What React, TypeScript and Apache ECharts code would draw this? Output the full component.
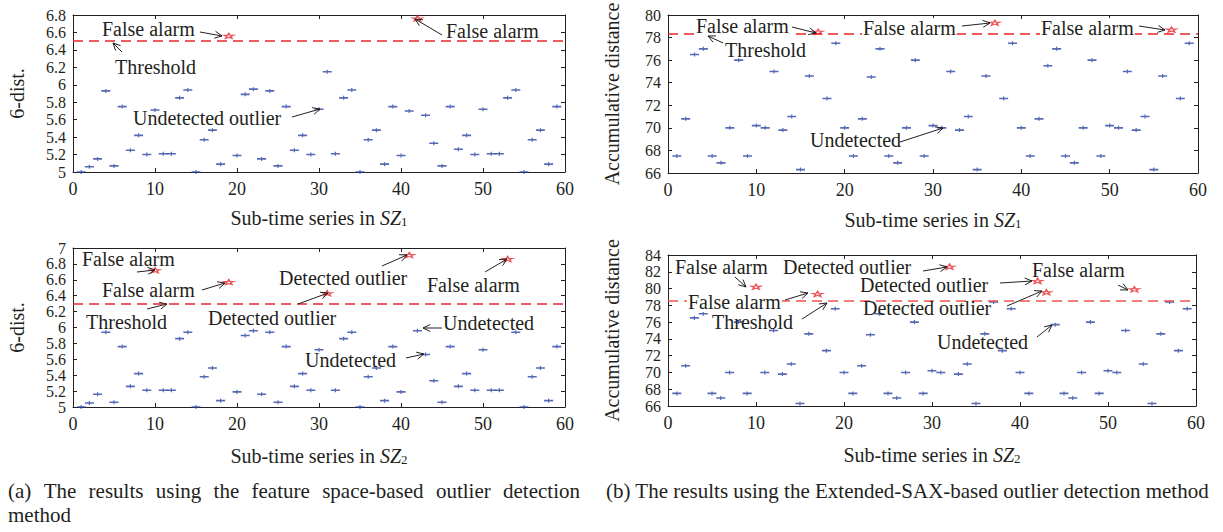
import React, { useEffect, useRef } from 'react';
import * as echarts from 'echarts';

// ---------- data ----------
const subSeries = Array.from({ length: 59 }, (_, i) => i + 1);

// (a) feature-space method, SZ1 (null = plotted as outlier)
const fsSZ1Normal = [5.00, 5.06, 5.15, 5.93, 5.07, 5.75, 5.25, 5.42, 5.20, 5.71, 5.21, 5.21, 5.85, 5.94, 5.00, 5.37, 5.48, 5.09, null, 5.19,
  5.89, 5.95, 5.15, 5.93, 5.07, 5.75, 5.25, 5.42, 5.20, 5.72, 6.15, 5.21, 5.85, 5.94, 5.00, 5.37, 5.48, 5.09, 5.75, 5.19,
  5.70, null, 5.65, 5.33, 5.07, 5.75, 5.26, 5.42, 5.20, 5.72, 5.21, 5.21, 5.85, 5.94, 5.00, 5.37, 5.48, 5.09, 5.75];
const fsSZ1OutX = [19, 42];
const fsSZ1OutY = [6.56, 6.76];
const fsSZ1Threshold = 6.5;

// (a) feature-space method, SZ2
const fsSZ2Normal = [5.00, 5.05, 5.16, 5.94, 5.06, 5.76, 5.26, 5.42, 5.21, null, 5.21, 5.21, 5.86, 5.94, 5.00, 5.38, 5.49, 5.08, null, 5.19,
  5.90, 5.96, 5.16, 5.94, 5.06, 5.76, 5.26, 5.42, 5.21, 5.72, null, 5.21, 5.86, 5.94, 5.00, 5.38, 5.49, 5.08, 5.76, 5.19,
  null, 5.96, 5.66, 5.33, 5.06, 5.76, 5.26, 5.42, 5.21, 5.72, 5.21, 5.21, null, 5.94, 5.00, 5.38, 5.49, 5.08, 5.76];
const fsSZ2OutX = [10, 19, 31, 41, 53];
const fsSZ2OutY = [6.72, 6.57, 6.43, 6.91, 6.86];
const fsSZ2Threshold = 6.3;

// (b) Extended-SAX method, SZ1
const saxSZ1Normal = [67.5, 70.8, 76.5, 77.0, 67.5, 66.9, 70.0, 76.0, 67.5, 70.2, 70.0, 75.0, 69.8, 71.0, 66.3, 74.6, null, 72.6, 77.5, 70.0,
  67.5, 70.8, 74.5, 77.0, 67.5, 66.9, 70.0, 76.0, 67.5, 70.2, 70.0, 75.0, 69.8, 71.0, 66.3, 74.6, null, 72.6, 77.5, 70.0,
  67.5, 70.8, 75.5, 77.0, 67.5, 66.9, 70.0, 76.0, 67.5, 70.2, 70.0, 75.0, 69.8, 71.0, 66.3, 74.6, null, 72.6, 77.5];
const saxSZ1OutX = [17, 37, 57];
const saxSZ1OutY = [78.5, 79.3, 78.7];
const saxSZ1Threshold = 78.3;

// (b) Extended-SAX method, SZ2
const saxSZ2Normal = [67.5, 70.8, 76.5, 77.0, 67.5, 66.95, 70.0, 76.0, 67.5, null, 70.0, 75.0, 69.8, 71.0, 66.3, 74.6, null, 72.6, 77.6, 70.0,
  67.5, 70.8, 74.5, 77.0, 67.5, 66.95, 70.0, 76.0, 67.5, 70.2, 70.0, null, 69.8, 71.0, 66.3, 74.6, 78.4, 72.6, 77.6, 70.0,
  67.5, null, null, 75.7, 67.5, 66.95, 70.0, 76.0, 67.5, 70.2, 70.0, 75.0, null, 71.0, 66.3, 74.6, 78.4, 72.6, 77.6];
const saxSZ2OutX = [10, 17, 32, 42, 43, 53];
const saxSZ2OutY = [80.2, 79.35, 82.6, 80.9, 79.55, 79.9];
const saxSZ2Threshold = 78.5;

const xTicks = { min: 0, max: 60, interval: 10 };

const captionA1 = ['(a)', 'The', 'results', 'using', 'the', 'feature', 'space-based', 'outlier', 'detection'];
const captionA2 = 'method';
const captionB = '(b) The results using the Extended-SAX-based outlier detection method';

// ---------- styling ----------
const FONT = '"Liberation Serif", "Times New Roman", serif';
const INK = '#231f20';
const BLUE = '#2c44a3';
const RED = '#e8262b';
const BLUE_SYM = 'path://M0,1.2 L9,1.2 L9,2.8 L0,2.8 Z M3.9,0 L5.1,0 L5.1,4 L3.9,4 Z';
const STAR_SYM = 'path://M5,0 L6.2,3.6 L10,3.6 L7,5.8 L8.1,9.5 L5,7.3 L1.9,9.5 L3,5.8 L0,3.6 L3.8,3.6 Z';

const panels = [
  { grid: { left: 73, top: 15, width: 492, height: 157 }, yMin: 5, yMax: 6.8, yInt: 0.2, yName: '6-dist.', sub: '1', xGap: 36,
    normal: fsSZ1Normal, outX: fsSZ1OutX, outY: fsSZ1OutY, thr: fsSZ1Threshold, thrColor: RED },
  { grid: { left: 668, top: 15, width: 530, height: 158 }, yMin: 66, yMax: 80, yInt: 2, yName: 'Accumulative distance', sub: '1', xGap: 37,
    normal: saxSZ1Normal, outX: saxSZ1OutX, outY: saxSZ1OutY, thr: saxSZ1Threshold, thrColor: RED },
  { grid: { left: 73, top: 248, width: 492, height: 159 }, yMin: 5, yMax: 7, yInt: 0.2, yName: '6-dist.', sub: '2', xGap: 39,
    normal: fsSZ2Normal, outX: fsSZ2OutX, outY: fsSZ2OutY, thr: fsSZ2Threshold, thrColor: RED },
  { grid: { left: 668, top: 255, width: 528, height: 151 }, yMin: 66, yMax: 84, yInt: 2, yName: 'Accumulative distance', sub: '2', xGap: 39,
    normal: saxSZ2Normal, outX: saxSZ2OutX, outY: saxSZ2OutY, thr: saxSZ2Threshold, thrColor: '#ef5350' },
];

// annotations: text (left x, middle y), arrows (from -> to)
const notes: { t: string; x: number; y: number; bg?: boolean }[] = [
  { t: 'False alarm', x: 102, y: 29 },
  { t: 'Threshold', x: 115, y: 67 },
  { t: 'Undetected outlier', x: 133, y: 118 },
  { t: 'False alarm', x: 446, y: 31 },
  { t: 'False alarm', x: 82, y: 259 },
  { t: 'False alarm', x: 102, y: 290 },
  { t: 'Threshold', x: 86, y: 322 },
  { t: 'Detected outlier', x: 279, y: 278 },
  { t: 'Detected outlier', x: 208, y: 318 },
  { t: 'False alarm', x: 427, y: 285 },
  { t: 'Undetected', x: 443, y: 323 },
  { t: 'Undetected', x: 305, y: 360 },
  { t: 'False alarm', x: 695, y: 26, bg: true },
  { t: 'Threshold', x: 725, y: 50 },
  { t: 'False alarm', x: 862, y: 28, bg: true },
  { t: 'False alarm', x: 1040, y: 28, bg: true },
  { t: 'Undetected', x: 810, y: 140 },
  { t: 'False alarm', x: 675, y: 267 },
  { t: 'Detected outlier', x: 783, y: 267 },
  { t: 'Detected outlier', x: 860, y: 285 },
  { t: 'False alarm', x: 687, y: 302, bg: true },
  { t: 'Threshold', x: 712, y: 322 },
  { t: 'Detected outlier', x: 863, y: 308 },
  { t: 'False alarm', x: 1032, y: 270 },
  { t: 'Undetected', x: 937, y: 342 },
];
const arrows: number[][] = [
  [200, 32, 222, 36], [122, 52, 113, 43], [292, 117, 320, 109], [442, 35, 415, 19],
  [137, 272, 155, 270], [202, 290, 225, 283], [147, 309, 167, 304], [382, 266, 407, 255],
  [298, 304, 328, 293], [485, 272, 507, 259], [442, 328, 423, 328], [406, 358, 424, 354],
  [792, 27, 816, 33], [723, 43, 708, 36], [962, 26, 990, 23], [1139, 26, 1165, 30], [900, 142, 943, 128],
  [735, 277, 746, 287], [923, 271, 947, 267], [1000, 283, 1032, 281], [785, 300, 808, 293],
  [802, 319, 827, 303], [1007, 306, 1042, 291], [1118, 285, 1128, 290], [1037, 337, 1052, 325],
];

function arrowEls(a: number[]) {
  const [x1, y1, x2, y2] = a;
  const ang = Math.atan2(y2 - y1, x2 - x1);
  const L = 8, w = 0.45;
  const p1 = [x2 - L * Math.cos(ang - w), y2 - L * Math.sin(ang - w)];
  const p2 = [x2 - L * Math.cos(ang + w), y2 - L * Math.sin(ang + w)];
  return [
    { type: 'line', z: 100, silent: true, shape: { x1, y1, x2, y2 }, style: { stroke: INK, lineWidth: 1 } },
    { type: 'polyline', z: 100, silent: true, shape: { points: [p1, [x2, y2], p2] }, style: { stroke: INK, fill: null, lineWidth: 1 } },
  ];
}

function fmt(v: number) {
  return String(parseFloat(v.toFixed(1)));
}

export default function App() {
  const ref = useRef<HTMLDivElement>(null);
  useEffect(() => {
    if (!ref.current) return;
    const chart = echarts.init(ref.current, null, { renderer: 'svg' });

    const grid: any[] = [];
    const xAxis: any[] = [];
    const yAxis: any[] = [];
    const series: any[] = [];
    const axisLine = { show: true, onZero: false, lineStyle: { color: INK, width: 1 } };
    const axisTick = { show: true, inside: true, length: 4, lineStyle: { color: INK, width: 1 } };

    panels.forEach((p, i) => {
      grid.push({ ...p.grid, show: false });
      xAxis.push({
        type: 'value', gridIndex: i, ...xTicks, position: 'bottom', axisLine, axisTick, splitLine: { show: false },
        axisLabel: { color: INK, fontFamily: FONT, fontSize: 18, margin: 8, showMinLabel: true, showMaxLabel: true },
        name: `{n|Sub-time series in }{i|SZ}{s|${p.sub}}`, nameLocation: 'middle', nameGap: p.xGap,
        nameTextStyle: {
          rich: {
            n: { fontFamily: FONT, fontSize: 20, color: INK },
            i: { fontFamily: FONT, fontSize: 20, fontStyle: 'italic', color: INK },
            s: { fontFamily: FONT, fontSize: 13, color: INK, verticalAlign: 'bottom', lineHeight: 8 },
          },
        },
      });
      xAxis.push({
        type: 'value', gridIndex: i, ...xTicks, position: 'top', axisLine, axisTick, splitLine: { show: false },
        axisLabel: { show: false },
      });
      yAxis.push({
        type: 'value', gridIndex: i, min: p.yMin, max: p.yMax, interval: p.yInt, position: 'left', axisLine, axisTick,
        splitLine: { show: false },
        axisLabel: {
          color: INK, fontFamily: FONT, fontSize: 16, lineHeight: 14, margin: 7, formatter: fmt,
          showMinLabel: true, showMaxLabel: true, hideOverlap: false,
        },
        name: p.yName, nameLocation: 'middle', nameRotate: 90, nameGap: 46,
        nameTextStyle: { fontFamily: FONT, fontSize: 20, color: INK },
      });
      yAxis.push({
        type: 'value', gridIndex: i, min: p.yMin, max: p.yMax, interval: p.yInt, position: 'right', axisLine, axisTick,
        splitLine: { show: false }, axisLabel: { show: false },
      });
      series.push({
        type: 'scatter', xAxisIndex: 2 * i, yAxisIndex: 2 * i, symbol: BLUE_SYM, symbolSize: [9, 4],
        itemStyle: { color: BLUE }, silent: true,
        data: subSeries.map((x, k) => [x, p.normal[k]]).filter((d) => d[1] !== null),
        markLine: {
          silent: true, symbol: 'none', label: { show: false },
          lineStyle: { color: p.thrColor, type: [10, 6], width: 1.5 },
          data: [{ yAxis: p.thr }],
        },
      });
      series.push({
        type: 'scatter', xAxisIndex: 2 * i, yAxisIndex: 2 * i, symbol: STAR_SYM, symbolSize: [10, 5],
        itemStyle: { color: 'rgba(0,0,0,0)', borderColor: RED, borderWidth: 1.3 }, silent: true,
        data: p.outX.map((x, k) => [x, p.outY[k]]),
      });
    });

    const graphic: any[] = [];
    notes.forEach((n) => {
      graphic.push({
        type: 'text', z: 100, silent: true, x: n.x, y: n.y,
        style: {
          text: n.t, fontFamily: FONT, fontSize: 20, fill: INK, align: 'left', verticalAlign: 'middle',
          ...(n.bg ? { backgroundColor: '#fff', padding: [0, 1] } : {}),
        },
      });
    });
    arrows.forEach((a) => graphic.push(...arrowEls(a)));

    // captions: line 1 of (a) is justified between 8 and 580
    const capFont = 21;
    const ctx = document.createElement('canvas').getContext('2d');
    let widths = captionA1.map((w) => w.length * 9);
    if (ctx) {
      ctx.font = `${capFont}px "Liberation Serif"`;
      widths = captionA1.map((w) => ctx.measureText(w).width);
    }
    const total = widths.reduce((s, w) => s + w, 0);
    const gap = (580 - 8 - total) / (captionA1.length - 1);
    let cx = 8;
    captionA1.forEach((w, k) => {
      graphic.push({
        type: 'text', silent: true, x: cx, y: 491,
        style: { text: w, fontFamily: FONT, fontSize: capFont, fill: INK, align: 'left', verticalAlign: 'middle' },
      });
      cx += widths[k] + gap;
    });
    graphic.push({
      type: 'text', silent: true, x: 8, y: 515,
      style: { text: captionA2, fontFamily: FONT, fontSize: capFont, fill: INK, align: 'left', verticalAlign: 'middle' },
    });
    graphic.push({
      type: 'text', silent: true, x: 606, y: 491,
      style: { text: captionB, fontFamily: FONT, fontSize: capFont, fill: INK, align: 'left', verticalAlign: 'middle' },
    });

    chart.setOption({
      animation: false,
      backgroundColor: '#fff',
      grid, xAxis, yAxis, series, graphic,
    });
    return () => chart.dispose();
  }, []);
  return <div ref={ref} style={{ position: 'absolute', left: 0, top: 0, width: 1223, height: 532 }} />;
}
